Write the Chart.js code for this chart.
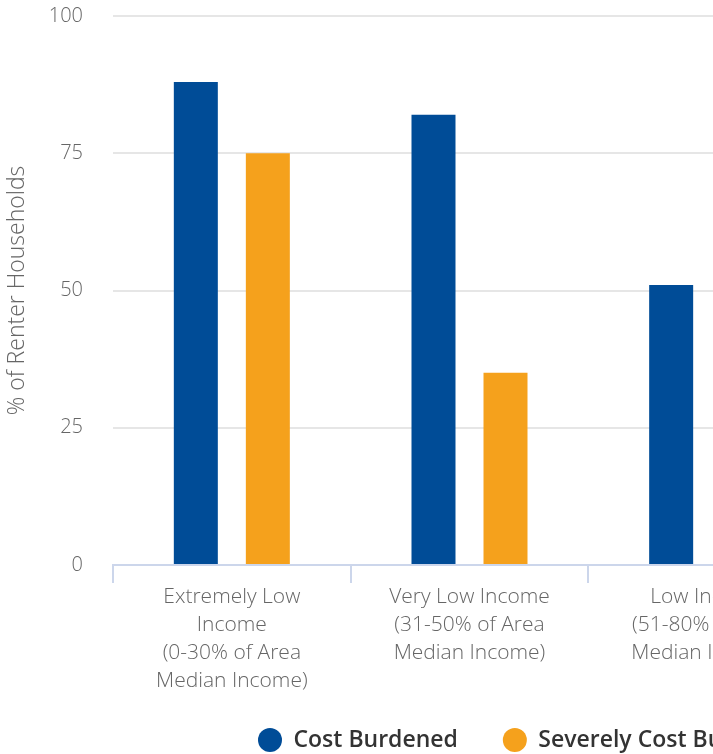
<!DOCTYPE html>
<html>
<head>
<meta charset="utf-8">
<script src="https://cdn.jsdelivr.net/npm/chart.js@4"></script>
<style>
  html, body { margin: 0; padding: 0; background: #fff; overflow: hidden; }
  #wrap { width: 713px; height: 754px; overflow: hidden; position: relative; }
  #box { width: 1085px; height: 754px; position: absolute; left: 0; top: 0; }
</style>
</head>
<body>
<div id="wrap"><div id="box"><canvas id="chart"></canvas></div></div>
<script>
const categories = [
  ['Extremely Low', 'Income', '(0-30% of Area', 'Median Income)'],
  ['Very Low Income', '(31-50% of Area', 'Median Income)'],
  ['Low Income', '(51-80% of Area', 'Median Income)']
];
const costBurdened = [88, 82, 51];
const severelyBurdened = [75, 35, 12];
const yTicks = [0, 25, 50, 75, 100];

const FONT = '"Open Sans", Lato, sans-serif';
const PLOT_BOTTOM = 565;
const LEGEND_X = 258;   // left edge of first marker
const LEGEND_Y = 740;   // centre line of legend row
const LEGEND_GAP = 45;
const LEGEND_SIZE = 23;

// legend: keep it small in the layout, then place it under the plot
const legendShift = {
  id: 'legendShift',
  beforeLayout(chart) {
    const lg = chart.legend;
    if (lg && !lg._patched) {
      const fit = lg.fit;
      lg.fit = function () { fit.call(this); this.height = 40; };
      lg._patched = true;
    }
  },
  afterLayout(chart) {
    const lg = chart.legend;
    lg.top = LEGEND_Y - LEGEND_GAP - LEGEND_SIZE / 2;
    lg.bottom = chart.height;
    lg.height = lg.bottom - lg.top;
    lg.left = LEGEND_X - LEGEND_GAP;
    lg.right = chart.width;
    lg.width = lg.right - lg.left;
  }
};

new Chart(document.getElementById('chart'), {
  type: 'bar',
  data: {
    labels: categories,
    datasets: [
      {
        label: 'Cost Burdened',
        data: costBurdened,
        backgroundColor: '#004c97'
      },
      {
        label: 'Severely Cost Burdened',
        data: severelyBurdened,
        backgroundColor: '#f5a11c'
      }
    ]
  },
  plugins: [legendShift],
  options: {
    responsive: true,
    maintainAspectRatio: false,
    animation: false,
    categoryPercentage: 0.606,
    barPercentage: 0.611,
    layout: { padding: { top: 16, right: 259, left: 0, bottom: 0 } },
    plugins: {
      tooltip: { enabled: false },
      legend: {
        position: 'bottom',
        align: 'start',
        labels: {
          usePointStyle: true,
          pointStyle: 'circle',
          pointStyleWidth: 24,
          boxWidth: 24,
          boxHeight: 17,
          padding: LEGEND_GAP,
          color: '#333',
          font: { family: FONT, size: LEGEND_SIZE, weight: '600' }
        }
      }
    },
    scales: {
      x: {
        afterFit: axis => {
          axis.height = axis.chart.height - PLOT_BOTTOM - axis.chart.legend.height;
          axis.paddingLeft = 0;
          axis.paddingRight = 0;
        },
        grid: {
          display: true,
          drawOnChartArea: false,
          tickLength: 18,
          color: '#ccd6eb',
          lineWidth: 2
        },
        border: { color: '#ccd6eb', width: 2 },
        ticks: {
          color: '#666',
          font: { family: FONT, size: 21, weight: '300', lineHeight: 1.33 },
          padding: 0,
          maxRotation: 0,
          autoSkip: false
        }
      },
      y: {
        min: 0,
        max: 100,
        afterBuildTicks: axis => { axis.ticks = yTicks.map(v => ({ value: v })); },
        afterFit: axis => {
          axis.width = 113;
          axis.paddingTop = 0;
          axis.paddingBottom = 0;
        },
        grid: { color: '#e6e6e6', lineWidth: 2, drawTicks: false },
        border: { display: false },
        ticks: { color: '#666', font: { family: FONT, size: 20, weight: '300' }, padding: 30 },
        title: {
          display: true,
          text: '% of Renter Households',
          color: '#666',
          font: { family: FONT, size: 23, weight: '300' },
          padding: { top: 4, bottom: 0 }
        }
      }
    }
  }
});
</script>
</body>
</html>
